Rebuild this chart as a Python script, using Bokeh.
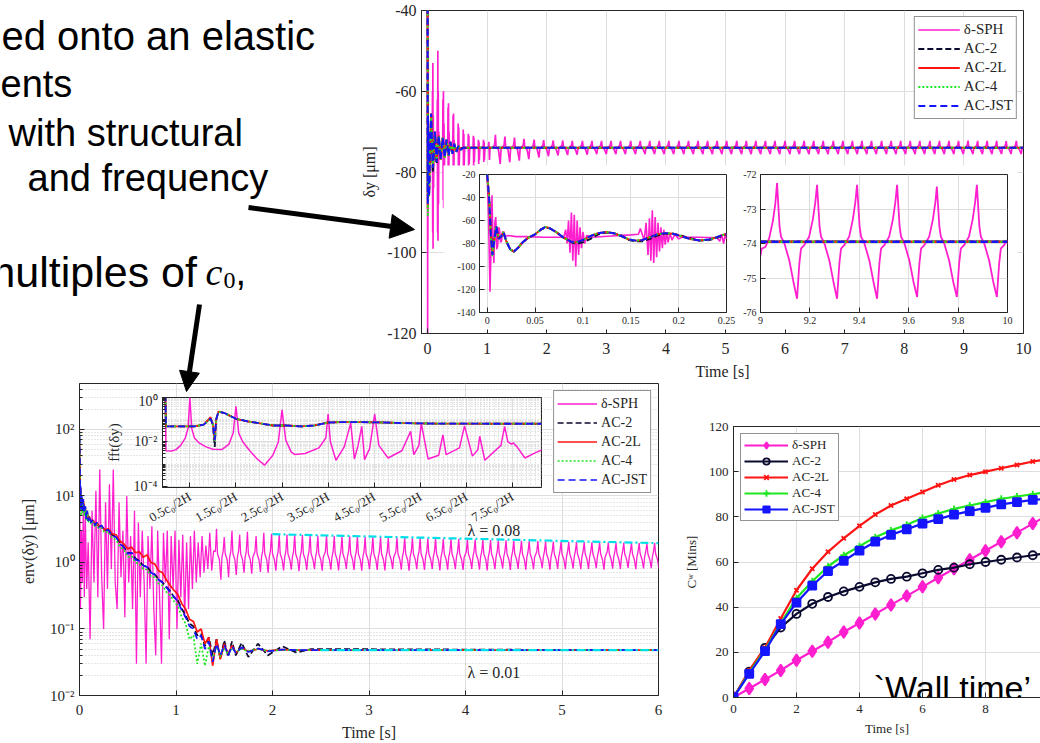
from bokeh.plotting import figure
from bokeh.layouts import column
from bokeh.models import Range1d, FixedTicker, CustomJSTickFormatter, Label, Arrow, NormalHead, BoxAnnotation
from bokeh.embed import file_html
from bokeh.resources import INLINE

# ======================= DATA =======================
series = ["δ-SPH", "AC-2", "AC-2L", "AC-4", "AC-JST"]

# ---- top panel: delta_y [um] versus time [s]
top_time_ticks = [0, 1, 2, 3, 4, 5, 6, 7, 8, 9, 10]
top_disp_ticks = [-120, -100, -80, -60, -40]
top_sph_early = [
    (0.000, -20), (0.003, -122), (0.005, -38), (0.007, -97), (0.009, -57), (0.012, -82), (0.016, -70), (0.020, -74),
    (0.080, -74.5), (0.085, -60), (0.088, -95), (0.091, -53), (0.094, -99), (0.098, -66), (0.102, -84), (0.108, -74),
    (0.160, -72), (0.166, -62), (0.170, -95), (0.174, -50), (0.177, -97), (0.181, -60), (0.185, -88), (0.190, -70),
    (0.200, -77), (0.210, -74),
    (0.255, -74), (0.260, -62), (0.264, -87), (0.268, -60), (0.272, -89), (0.277, -68), (0.283, -80), (0.290, -74),
    (0.340, -74), (0.345, -64), (0.349, -85), (0.353, -63), (0.357, -87), (0.362, -70), (0.370, -74),
    (0.425, -74), (0.430, -66), (0.434, -83), (0.438, -65.5), (0.442, -83.5), (0.447, -72), (0.455, -74),
    (0.510, -74), (0.515, -68), (0.520, -81.5), (0.525, -69), (0.530, -80), (0.540, -74),
    (0.595, -74), (0.600, -69.5), (0.605, -79.5), (0.610, -70.5), (0.615, -78.5), (0.625, -74),
    (0.680, -74), (0.685, -70.5), (0.690, -79), (0.695, -71), (0.700, -78), (0.710, -74),
    (0.765, -74), (0.770, -71), (0.775, -78.5), (0.780, -71.5), (0.785, -77.5), (0.795, -74),
    (0.850, -74), (0.855, -72), (0.860, -78), (0.865, -72.5), (0.870, -77), (0.880, -74),
    (0.935, -74), (0.940, -72), (0.945, -77.5), (0.950, -72.5), (0.955, -77), (0.965, -74),
    (1.020, -74), (1.030, -72.5), (1.040, -77), (1.050, -74), (1.090, -74),
]
top_sph_peak_t = [
    1.14, 1.30, 1.46, 1.62, 1.79, 1.95, 2.11, 2.27, 2.43, 2.60,
    2.76, 2.92, 3.08, 3.24, 3.41, 3.57, 3.73, 3.89, 4.05, 4.22,
    4.38, 4.54, 4.70, 4.86, 5.02, 5.19, 5.35, 5.51, 5.67, 5.83,
    6.00, 6.16, 6.32, 6.48, 6.64, 6.81, 6.97, 7.13, 7.29, 7.45,
    7.62, 7.78, 7.94, 8.10, 8.26, 8.43, 8.59, 8.75, 8.91, 9.07,
    9.23, 9.39, 9.55, 9.71, 9.88]
top_sph_peak_y = [
    -70.8, -71.2, -71.5, -71.8, -72.0, -72.1, -72.2, -72.2, -72.3, -72.3,
    -72.3, -72.3, -72.3, -72.3, -72.3, -72.3, -72.3, -72.3, -72.3, -72.3,
    -72.3, -72.3, -72.3, -72.3, -72.3, -72.3, -72.3, -72.3, -72.3, -72.3,
    -72.3, -72.3, -72.3, -72.3, -72.3, -72.3, -72.3, -72.3, -72.3, -72.3,
    -72.3, -72.3, -72.3, -72.3, -72.3, -72.3, -72.3, -72.3, -72.3, -72.25,
    -72.3, -72.3, -72.3, -72.35, -72.3]
top_sph_trough_y = [
    -78.0, -77.6, -77.2, -76.8, -76.4, -76.1, -75.9, -75.8, -75.7, -75.7,
    -75.6, -75.6, -75.6, -75.6, -75.6, -75.6, -75.6, -75.6, -75.6, -75.6,
    -75.6, -75.6, -75.6, -75.6, -75.6, -75.6, -75.6, -75.6, -75.6, -75.6,
    -75.6, -75.6, -75.6, -75.6, -75.6, -75.6, -75.6, -75.6, -75.6, -75.6,
    -75.6, -75.6, -75.6, -75.6, -75.6, -75.6, -75.6, -75.6, -75.6, -75.6,
    -75.6, -75.6, -75.55, -75.55, -75.55]
top_ac_t = [0.0, 0.002, 0.004, 0.0055, 0.009, 0.013, 0.017, 0.027, 0.04, 0.061, 0.09, 0.125, 0.152, 0.19,
            0.22, 0.255, 0.29, 0.32, 0.355, 0.385, 0.42, 0.45, 0.485, 0.52, 0.555, 0.6, 0.7, 10.0]
top_ac2_y = [-20, -40, -72, -85, -67, -75, -71, -85, -78, -66, -80, -71, -78, -71.5,
             -76.5, -72, -76, -72.5, -75.5, -73, -75, -73.5, -74.6, -73.8, -74.3, -74, -74, -74]
top_ac2l_y = [-20, -40, -76, -89, -66, -76, -70, -86, -77, -65.5, -79, -70, -77.5, -71,
              -77, -71.5, -76.5, -72, -76, -72.5, -75.5, -73, -75, -73.5, -74.5, -74, -74, -74]
top_ac4_y = [-20, -40, -77, -91, -66, -76, -70, -86, -77, -65.5, -79, -70, -77.5, -71,
             -77, -71.5, -76.5, -72, -76, -72.5, -75.5, -73, -75, -73.5, -74.5, -74, -74, -74]
top_acjst_y = [-20, -40, -75, -88, -66, -76, -70, -86, -77, -65.5, -79, -70, -77.5, -71,
               -77, -71.5, -76.5, -72, -76, -72.5, -75.5, -73, -75, -73.5, -74.5, -74, -74, -74]

# ---- inset 1 (0 - 0.25 s)
ins1_time_ticks = [0, 0.05, 0.1, 0.15, 0.2, 0.25]
ins1_disp_ticks = [-140, -120, -100, -80, -60, -40, -20]
ins1_sph = [
    (0.000, -20), (0.0015, -60), (0.003, -122), (0.0045, -70), (0.005, -38), (0.006, -75), (0.007, -97),
    (0.008, -62), (0.009, -57), (0.010, -85), (0.011, -82), (0.012, -66), (0.013, -68), (0.014, -79),
    (0.015, -78), (0.016, -70), (0.0175, -70), (0.019, -74), (0.022, -73), (0.030, -74), (0.040, -74),
    (0.060, -74.5), (0.080, -74.5),
    (0.082, -68), (0.0835, -80), (0.085, -60), (0.0865, -88), (0.088, -53), (0.0895, -95), (0.091, -55),
    (0.0925, -100), (0.094, -60), (0.0955, -90), (0.097, -66), (0.0985, -84), (0.100, -70), (0.102, -80),
    (0.104, -73), (0.110, -74.5), (0.130, -73.5), (0.150, -72.5), (0.158, -72),
    (0.160, -67), (0.162, -72), (0.164, -77),
    (0.166, -62), (0.168, -90), (0.1695, -58), (0.171, -95), (0.1725, -51), (0.174, -97), (0.1755, -57),
    (0.177, -92), (0.1785, -62), (0.180, -87), (0.1815, -66), (0.183, -84), (0.1845, -68), (0.186, -81),
    (0.1875, -70), (0.189, -79), (0.191, -71), (0.193, -77), (0.196, -72), (0.200, -76), (0.205, -74),
    (0.210, -74.5), (0.220, -74.5), (0.240, -75), (0.243, -78), (0.245, -72), (0.247, -80), (0.249, -71),
    (0.250, -76),
]
ins1_ac_t = [0.000, 0.002, 0.004, 0.0055, 0.007, 0.0095, 0.012, 0.0145, 0.017, 0.020,
             0.024, 0.028, 0.032, 0.037, 0.043, 0.050, 0.056, 0.061, 0.066, 0.072,
             0.080, 0.088, 0.093, 0.100, 0.108, 0.116, 0.124, 0.132, 0.140, 0.148,
             0.155, 0.162, 0.170, 0.178, 0.186, 0.194, 0.202, 0.212, 0.222, 0.232,
             0.240, 0.246, 0.250]
ins1_acjst_y = [-20, -40, -75, -90, -80, -65, -76, -74, -70, -78,
                -85, -87, -84, -79, -75, -72, -68, -65.5, -67, -70,
                -75, -78.5, -79, -77, -73.5, -71, -70, -71, -73.5, -76.5,
                -77.5, -77, -74.5, -72, -71, -71.5, -73.5, -76, -77.3, -76.5,
                -74.5, -72.5, -72]
ins1_ac2_y = [-20, -40, -72, -86, -79, -66, -75, -74, -71, -78,
              -85, -87, -84, -79, -75, -72, -68, -66, -67, -70,
              -75, -79, -80, -79, -76, -72, -70.5, -71, -73, -77,
              -78, -78, -76, -73, -71.5, -71.5, -73, -75.5, -77.5, -77,
              -75, -73, -72]
ins1_ac2l_y = [-20, -40, -75, -89, -80, -65, -76, -74, -70, -78,
               -85, -87, -84, -79, -75, -72, -68, -65.5, -67, -70,
               -75, -78.5, -79, -77, -73.5, -71, -70, -71, -73.5, -76.5,
               -77.5, -77, -74.5, -72, -71, -71.5, -73.5, -76, -77.3, -76.5,
               -74.5, -72.5, -72]
ins1_ac4_y = [-20, -40, -76, -91, -80, -65, -76, -74, -70, -78,
              -85, -87, -84, -79, -75, -72, -68, -65.5, -67, -70,
              -75, -78.5, -79, -77, -73.5, -71, -70, -71, -73.5, -76.5,
              -77.5, -77, -74.5, -72, -71, -71.5, -73.5, -76, -77.3, -76.5,
              -74.5, -72.5, -72]

# ---- inset 2 (9 - 10 s)
ins2_time_ticks = [9, 9.2, 9.4, 9.6, 9.8, 10]
ins2_disp_ticks = [-76, -75, -74, -73, -72]
ins2_sph_t = [
    9.000, 9.005, 9.020, 9.035, 9.050, 9.060,
    9.067, 9.077, 9.083, 9.097, 9.117, 9.133, 9.148, 9.157, 9.164, 9.177, 9.197, 9.212, 9.222,
    9.229, 9.239, 9.245, 9.259, 9.279, 9.295, 9.310, 9.319, 9.326, 9.339, 9.359, 9.374, 9.384,
    9.391, 9.401, 9.407, 9.421, 9.441, 9.457, 9.472, 9.481, 9.488, 9.501, 9.521, 9.536, 9.546,
    9.553, 9.563, 9.569, 9.583, 9.603, 9.619, 9.634, 9.643, 9.650, 9.663, 9.683, 9.698, 9.708,
    9.714, 9.724, 9.730, 9.744, 9.764, 9.780, 9.795, 9.804, 9.811, 9.824, 9.844, 9.859, 9.869,
    9.876, 9.886, 9.892, 9.906, 9.926, 9.942, 9.957, 9.966, 9.973, 9.986, 10.000]
ins2_sph_y = [
    -74.35, -74.15, -74.10, -73.85, -73.35, -72.85,
    -72.25, -73.50, -73.80, -74.00, -74.50, -75.10, -75.60, -74.60, -74.15, -74.05, -73.80, -73.30, -72.80,
    -72.30, -73.50, -73.80, -74.00, -74.50, -75.10, -75.60, -74.60, -74.15, -74.05, -73.80, -73.30, -72.80,
    -72.30, -73.50, -73.80, -74.00, -74.50, -75.10, -75.60, -74.60, -74.15, -74.05, -73.80, -73.30, -72.80,
    -72.30, -73.50, -73.80, -74.00, -74.50, -75.10, -75.55, -74.60, -74.15, -74.05, -73.80, -73.30, -72.80,
    -72.35, -73.50, -73.80, -74.00, -74.50, -75.10, -75.55, -74.60, -74.15, -74.05, -73.80, -73.30, -72.80,
    -72.30, -73.50, -73.80, -74.00, -74.50, -75.10, -75.55, -74.60, -74.15, -74.05, -73.90]
ins2_ac_t = [9.0, 10.0]
ins2_ac_y = [-73.95, -73.95]

# ---- envelope panel (log)
env_time_ticks = [0, 1, 2, 3, 4, 5, 6]
env_decades = [0.01, 0.1, 1, 10, 100]
env_sph_early = [
    (0.000, 100), (0.010, 0.2), (0.020, 3), (0.030, 0.5), (0.040, 8), (0.050, 0.3), (0.060, 5),
    (0.075, 0.4), (0.090, 2), (0.110, 0.07), (0.130, 6), (0.150, 0.5), (0.170, 12), (0.190, 0.3),
    (0.210, 25), (0.230, 0.6), (0.250, 0.1), (0.270, 8), (0.290, 0.4), (0.310, 15), (0.330, 0.8),
    (0.350, 25), (0.370, 0.5), (0.390, 0.2), (0.410, 8), (0.430, 0.6), (0.450, 3), (0.470, 0.15),
    (0.490, 10), (0.510, 0.5), (0.530, 2.5), (0.550, 0.2), (0.570, 6), (0.590, 0.03), (0.610, 4),
    (0.630, 0.3), (0.650, 3), (0.670, 0.5), (0.690, 0.03), (0.710, 2.5), (0.730, 0.4), (0.750, 3.5),
    (0.770, 0.2), (0.790, 0.04), (0.810, 3), (0.830, 0.3), (0.850, 0.03), (0.870, 2.8), (0.890, 0.5),
    (0.910, 3), (0.930, 0.07), (0.950, 2.5), (0.970, 0.4), (0.990, 3), (1.010, 0.1), (1.030, 2.2),
    (1.050, 0.3), (1.070, 2.6), (1.090, 0.15), (1.110, 2), (1.130, 0.2), (1.150, 2.5), (1.170, 0.4),
    (1.190, 3), (1.210, 0.5), (1.230, 2), (1.250, 0.6), (1.270, 2.5), (1.290, 0.7), (1.310, 1.8),
    (1.330, 0.8), (1.350, 2.8), (1.370, 0.75), (1.390, 1.5),
]
env_spike_t = [
    1.42, 1.50, 1.58, 1.66, 1.74, 1.83, 1.91, 1.99,
    2.07, 2.15, 2.23, 2.31, 2.39, 2.47, 2.56, 2.64, 2.72, 2.80, 2.88, 2.96,
    3.04, 3.12, 3.20, 3.29, 3.37, 3.45, 3.53, 3.61, 3.69, 3.77, 3.85, 3.93,
    4.02, 4.10, 4.18, 4.26, 4.34, 4.42, 4.50, 4.58, 4.66, 4.75, 4.83, 4.91, 4.99,
    5.07, 5.15, 5.23, 5.31, 5.39, 5.48, 5.56, 5.64, 5.72, 5.80, 5.88, 5.96]
env_spike_peak = [
    3.2, 2.4, 3.0, 2.6, 2.9, 2.5, 2.8, 2.7,
    2.66, 2.62, 2.64, 2.58, 2.57, 2.55, 2.56, 2.50, 2.49, 2.47, 2.46, 2.44,
    2.42, 2.41, 2.38, 2.37, 2.36, 2.33, 2.32, 2.30, 2.29, 2.27, 2.25, 2.24,
    2.22, 2.21, 2.19, 2.18, 2.16, 2.15, 2.13, 2.12, 2.10, 2.09, 2.07, 2.06, 2.05,
    2.04, 2.03, 2.02, 2.01, 2.00, 1.99, 1.98, 1.97, 1.96, 1.96, 1.95, 1.95]
env_spike_trough = [
    0.55, 0.6, 0.65, 0.7, 0.68, 0.72, 0.7, 0.75,
    0.76, 0.78, 0.74, 0.77, 0.79, 0.75, 0.78, 0.76, 0.8, 0.77, 0.75, 0.79,
    0.77, 0.76, 0.8, 0.78, 0.75, 0.79, 0.77, 0.8, 0.76, 0.78, 0.79, 0.77,
    0.8, 0.78, 0.76, 0.79, 0.81, 0.77, 0.8, 0.78, 0.79, 0.82, 0.78, 0.8, 0.79,
    0.81, 0.79, 0.8, 0.82, 0.78, 0.81, 0.8, 0.83, 0.79, 0.81, 0.82, 0.8]
env_ac_t = [0.000, 0.004, 0.008, 0.012, 0.016, 0.022, 0.030, 0.040, 0.050, 0.060,
            0.070, 0.080, 0.090, 0.100, 0.120, 0.140, 0.160, 0.180, 0.200, 0.230,
            0.260, 0.300, 0.340, 0.380, 0.420, 0.460, 0.500, 0.540, 0.580, 0.620,
            0.660, 0.700, 0.740, 0.780, 0.820, 0.860, 0.900, 0.940, 0.980, 1.020,
            1.060, 1.100, 1.140, 1.180, 1.220, 1.260, 1.300, 1.340, 1.380, 1.420,
            1.460, 1.500, 1.540, 1.580, 1.620, 1.680, 1.750, 1.850, 1.950, 2.100,
            2.250, 2.400, 6.000]
env_ac2_y = [70, 28, 8.5, 13, 6.5, 9.5, 6.5, 8.5, 5.8, 6.8,
             4.8, 5.8, 4.4, 4.9, 4.1, 4.3, 3.7, 3.9, 3.5, 3.5,
             3.1, 3.0, 2.6, 2.4, 2.0, 1.7, 1.4, 1.4, 1.15, 1.05,
             0.9, 0.88, 0.72, 0.66, 0.56, 0.5, 0.43, 0.37, 0.3, 0.27,
             0.2, 0.16, 0.12, 0.11, 0.08, 0.085, 0.055, 0.075, 0.04, 0.07,
             0.035, 0.068, 0.038, 0.065, 0.04, 0.062, 0.038, 0.06, 0.04, 0.055,
             0.044, 0.05, 0.048]
env_ac2l_y = [60, 25, 9, 13, 7, 9, 7, 8.5, 6, 6.5,
              5, 5.5, 4.5, 4.8, 4.2, 4.3, 3.8, 3.9, 3.5, 3.5,
              3.1, 3.2, 2.7, 2.6, 2.1, 1.9, 1.6, 1.7, 1.4, 1.45,
              1.2, 1.3, 1.0, 0.95, 0.75, 0.7, 0.55, 0.45, 0.38, 0.33,
              0.24, 0.2, 0.14, 0.13, 0.09, 0.1, 0.06, 0.075, 0.028, 0.07,
              0.035, 0.06, 0.042, 0.056, 0.044, 0.052, 0.046, 0.05, 0.047, 0.049,
              0.048, 0.048, 0.048]
env_ac4_y = [90, 20, 7, 12, 5, 9, 5.5, 8, 5, 6.5,
             4.2, 5.5, 4, 4.6, 3.8, 4.1, 3.4, 3.7, 3.2, 3.3,
             2.8, 2.9, 2.3, 2.2, 1.7, 1.55, 1.2, 1.25, 1.0, 0.95,
             0.8, 0.78, 0.62, 0.6, 0.48, 0.45, 0.36, 0.32, 0.26, 0.22,
             0.15, 0.12, 0.07, 0.08, 0.03, 0.06, 0.028, 0.055, 0.035, 0.055,
             0.038, 0.052, 0.042, 0.05, 0.045, 0.05, 0.046, 0.05, 0.047, 0.048,
             0.048, 0.048, 0.048]
env_acjst_y = [80, 30, 8, 14, 6, 10, 6, 9, 5.5, 7,
               4.5, 6, 4.2, 5, 4, 4.4, 3.6, 4, 3.4, 3.6,
               3.0, 3.1, 2.5, 2.4, 1.9, 1.7, 1.35, 1.4, 1.1, 1.05,
               0.9, 0.85, 0.7, 0.66, 0.55, 0.5, 0.42, 0.36, 0.3, 0.26,
               0.19, 0.15, 0.11, 0.1, 0.07, 0.08, 0.05, 0.065, 0.032, 0.06,
               0.04, 0.058, 0.04, 0.055, 0.043, 0.053, 0.045, 0.051, 0.046, 0.049,
               0.048, 0.048, 0.048]
fit_hi_t = [2.0, 6.0]
fit_hi_y = [2.66, 1.95]
fit_lo_t = [2.5, 6.0]
fit_lo_y = [0.048, 0.048]

# ---- fft inset (frequency in units of c0/2H)
fft_freq_ticks = [0.5, 1.5, 2.5, 3.5, 4.5, 5.5, 6.5, 7.5]
fft_decades = [1e-4, 1e-2, 1]
fft_sph = [
    (-0.094, 1.0), (-0.03, 0.9), (-0.02, 0.004), (0.1, 0.0039), (0.2, 0.0045), (0.3, 0.007), (0.4, 0.015),
    (0.46, 0.04), (0.5, 1.0), (0.54, 0.04), (0.6, 0.015), (0.7, 0.009), (0.85, 0.006), (1.0, 0.0047),
    (1.2, 0.0046), (1.35, 0.008), (1.44, 0.025), (1.5, 0.4), (1.56, 0.025), (1.65, 0.01), (1.8, 0.004),
    (1.95, 0.0018), (2.12, 0.0009), (2.3, 0.0025), (2.42, 0.01), (2.5, 0.28), (2.58, 0.012), (2.7, 0.0035),
    (2.78, 0.0027), (3.0, 0.003), (3.3, 0.0054), (3.45, 0.015), (3.5, 0.18), (3.55, 0.01), (3.67, 0.0015),
    (3.85, 0.006), (3.99, 0.07), (4.07, 0.0017), (4.15, 0.007), (4.23, 0.05), (4.29, 0.0016), (4.4, 0.005),
    (4.51, 0.18), (4.6, 0.007), (4.8, 0.0019), (5.1, 0.004), (5.29, 0.03), (5.36, 0.0027), (5.47, 0.007),
    (5.52, 0.07), (5.67, 0.0017), (5.9, 0.0025), (5.99, 0.021), (6.06, 0.0027), (6.35, 0.0054), (6.46, 0.053),
    (6.63, 0.0023), (6.75, 0.0045), (6.79, 0.018), (6.9, 0.0015), (7.25, 0.007), (7.33, 0.05), (7.4, 0.01),
    (7.48, 0.008), (7.52, 0.009), (7.6, 0.006), (7.77, 0.0019), (8.0, 0.0033), (8.2, 0.005),
]
fft_ac_f = [-0.094, -0.03, -0.02, 0.3, 0.6, 0.8, 0.95, 1.0, 1.04, 1.07, 1.12, 1.25, 1.5, 1.75,
            2.0, 2.3, 2.6, 2.9, 3.2, 3.5, 3.8, 4.2, 4.6, 5.0, 5.5, 6.0, 7.0, 8.2]
fft_ac2_y = [1.0, 1.0, 0.05, 0.05, 0.05, 0.06, 0.12, 0.06, 0.006, 0.1, 0.23, 0.2, 0.11, 0.085,
             0.07, 0.055, 0.055, 0.05, 0.055, 0.075, 0.078, 0.078, 0.076, 0.072, 0.068, 0.067, 0.066, 0.066]
fft_ac2l_y = [1.0, 1.0, 0.05, 0.05, 0.05, 0.06, 0.13, 0.06, 0.011, 0.1, 0.23, 0.2, 0.11, 0.085,
              0.07, 0.055, 0.055, 0.05, 0.055, 0.075, 0.078, 0.078, 0.076, 0.072, 0.068, 0.067, 0.066, 0.066]
fft_ac4_y = [1.0, 1.0, 0.05, 0.05, 0.05, 0.06, 0.11, 0.06, 0.011, 0.1, 0.23, 0.2, 0.11, 0.085,
             0.07, 0.055, 0.055, 0.05, 0.055, 0.075, 0.078, 0.078, 0.076, 0.072, 0.068, 0.067, 0.066, 0.066]
fft_acjst_y = [1.0, 1.0, 0.05, 0.05, 0.05, 0.06, 0.11, 0.06, 0.012, 0.1, 0.23, 0.2, 0.11, 0.085,
               0.07, 0.055, 0.055, 0.05, 0.055, 0.075, 0.078, 0.078, 0.076, 0.072, 0.068, 0.067, 0.066, 0.066]

# ---- wall time panel
wall_time_ticks = [0, 2, 4, 6, 8]
wall_min_ticks = [0, 20, 40, 60, 80, 100, 120]
wall_t = [0, 0.5, 1, 1.5, 2, 2.5, 3, 3.5, 4, 4.5, 5, 5.5, 6, 6.5, 7, 7.5, 8, 8.5, 9, 9.5, 10]
wall_sph = [0, 4, 8, 12, 16.5, 20.5, 24.5, 29, 33, 37, 41, 45, 49, 53, 57, 61, 65, 69, 73, 77, 81]
wall_ac2 = [0, 11.5, 22, 31, 37, 41.5, 44.5, 47, 49, 51, 52.5, 53.5, 55, 56.5, 57.5, 59, 60, 61, 62, 63, 64]
wall_ac2l = [0, 12, 22, 35, 47.5, 57, 64.5, 70.5, 76, 81, 85, 88, 91, 94, 96.5, 98.5, 100, 101.5, 103, 104.5, 105.5]
wall_ac4 = [0, 11, 21, 33, 44, 51.5, 58, 63, 67, 71, 74, 76.5, 79.5, 81.5, 83.5, 85, 86.5, 88, 89, 90, 91]
wall_acjst = [0, 10.5, 20.5, 32.5, 42, 49.5, 56, 60.5, 65, 69, 72, 74.5, 77, 79, 81, 82.5, 84, 85.5, 86.5, 87.5, 88]

# ---- checks
for a, b in [(top_sph_peak_t, top_sph_peak_y), (top_sph_peak_t, top_sph_trough_y), (top_ac_t, top_ac2_y),
             (top_ac_t, top_ac2l_y), (top_ac_t, top_ac4_y), (top_ac_t, top_acjst_y), (ins1_ac_t, ins1_ac2_y),
             (ins1_ac_t, ins1_ac2l_y), (ins1_ac_t, ins1_ac4_y), (ins1_ac_t, ins1_acjst_y), (ins2_sph_t, ins2_sph_y),
             (env_spike_t, env_spike_peak), (env_spike_t, env_spike_trough), (env_ac_t, env_ac2_y),
             (env_ac_t, env_ac2l_y), (env_ac_t, env_ac4_y), (env_ac_t, env_acjst_y), (fft_ac_f, fft_ac2_y),
             (fft_ac_f, fft_ac2l_y), (fft_ac_f, fft_ac4_y), (fft_ac_f, fft_acjst_y)]:
    assert len(a) == len(b), (len(a), len(b))

# ---- build polylines from the read tables
top_sph_t = [p[0] for p in top_sph_early]
top_sph_y = [p[1] for p in top_sph_early]
for tp, pk, tr in zip(top_sph_peak_t, top_sph_peak_y, top_sph_trough_y):
    top_sph_t += [tp - 0.05, tp - 0.015, tp, tp + 0.012, tp + 0.05, tp + 0.081, tp + 0.095]
    top_sph_y += [-74.0, -73.4, pk, -73.8, -74.4, tr, -74.2]

env_sph_t = [p[0] for p in env_sph_early]
env_sph_y = [p[1] for p in env_sph_early]
for ts, pk, tr in zip(env_spike_t, env_spike_peak, env_spike_trough):
    env_sph_t += [ts - 0.012, ts, ts + 0.01, ts + 0.03, ts + 0.045, ts + 0.056]
    env_sph_y += [1.45, pk, 1.35, 1.1, tr, 1.2]

# ======================= STYLE =======================
SERIF = "Liberation Serif"
SANS = "Liberation Sans"
AXC = "#262626"
PINK = "#ff1fcf"
NAVY = "#0a0a30"
RED = "#ff1414"
GREEN = "#1fe61f"
BLUE = "#1414ff"
CYAN = "#00e0e8"
BL = 80   # common left border (the column aligns frame edges of its children)
BR = 10   # common right border
PAGE_W, PAGE_H = 1040, 743


def fmt_num():
    return CustomJSTickFormatter(code="return String(Math.round(tick * 1000) / 1000);")


def fmt_log():
    return CustomJSTickFormatter(code="""
const e = Math.round(Math.log10(tick));
const m = {"-": "\u207b", "0": "\u2070", "1": "\u00b9", "2": "\u00b2", "3": "\u00b3", "4": "\u2074", "5": "\u2075"};
return "10" + String(e).split("").map(c => m[c]).join("");
""")


def panel(frame_left, top, fw, fh, bt, bb, xr, yr, y_type="linear"):
    p = figure(x_range=Range1d(*xr), y_range=Range1d(*yr), y_axis_type=y_type,
               frame_width=fw, frame_height=fh,
               min_border_left=BL, min_border_right=BR, min_border_top=bt, min_border_bottom=bb,
               toolbar_location=None, tools="", output_backend="svg",
               background_fill_color="white", border_fill_color=None,
               styles={"position": "absolute", "left": f"{frame_left - BL}px", "top": f"{top}px"})
    return p


def style(p, tick_px, label_px):
    p.outline_line_color = AXC
    p.outline_line_width = 1
    for ax in list(p.xaxis) + list(p.yaxis):
        ax.axis_line_color = AXC
        ax.major_tick_line_color = AXC
        ax.minor_tick_line_color = AXC
        ax.major_tick_in = 5
        ax.major_tick_out = 0
        ax.minor_tick_in = 3
        ax.minor_tick_out = 0
        ax.major_label_text_font = SERIF
        ax.major_label_text_font_size = f"{tick_px}px"
        ax.major_label_text_color = AXC
        ax.axis_label_text_font = SERIF
        ax.axis_label_text_font_size = f"{label_px}px"
        ax.axis_label_text_font_style = "normal"
        ax.axis_label_text_color = AXC
        ax.major_label_standoff = 5
    p.xgrid.grid_line_color = "#dedede"
    p.ygrid.grid_line_color = "#dedede"


def set_ticks(p, dim, ticks, minor=None, fmt=None):
    tk = FixedTicker(ticks=ticks, minor_ticks=minor or [])
    if dim == "x":
        p.xaxis.ticker = tk
        p.xgrid.ticker = tk
        p.xaxis.formatter = fmt or fmt_num()
    else:
        p.yaxis.ticker = tk
        p.ygrid.ticker = tk
        p.yaxis.formatter = fmt or fmt_num()


def style_legend(p, loc, font_px, glyph_w, row_h, margin):
    lg = p.legend[0]
    lg.location = loc
    lg.margin = margin
    lg.padding = 3
    lg.spacing = 0
    lg.label_text_font = SERIF
    lg.label_text_font_size = f"{font_px}px"
    lg.label_text_color = AXC
    lg.glyph_width = glyph_w
    lg.glyph_height = row_h
    lg.label_height = row_h
    lg.label_standoff = 4
    lg.border_line_color = AXC
    lg.border_line_width = 1
    lg.background_fill_color = "white"
    lg.background_fill_alpha = 1


def ac_lines(p, x, ys, width, legend=True):
    specs = [("AC-2", NAVY, "6 3"), ("AC-2L", RED, "solid"), ("AC-4", GREEN, "2 2"), ("AC-JST", BLUE, "7 4")]
    for (name, col, dash), y in zip(specs, ys):
        kw = {"legend_label": name} if legend else {}
        p.line(x, y, line_color=col, line_width=width, line_dash=dash, **kw)


# ======================= TOP PANEL =======================
pa = panel(421, 0, 602, 323, 10, 45, (-0.1, 10), (-120, -40))
pa.line(top_sph_t, top_sph_y, line_color=PINK, line_width=1.7, legend_label="δ-SPH")
ac_lines(pa, top_ac_t, [top_ac2_y, top_ac2l_y, top_ac4_y, top_acjst_y], 2.0)
# white backdrop behind the two zoom insets (as in the original figure)
pa.add_layout(BoxAnnotation(left=0.27, right=9.9, bottom=-119.0, top=-78.4,
                            fill_color="white", fill_alpha=1.0, line_color=None))
style(pa, 16, 16)
set_ticks(pa, "x", top_time_ticks)
set_ticks(pa, "y", top_disp_ticks)
pa.xaxis.major_label_standoff = 9
pa.xaxis.axis_label = "Time [s]"
pa.yaxis.axis_label = "δy [μm]"
pa.xaxis.axis_label_standoff = 6
pa.yaxis.axis_label_standoff = 6
style_legend(pa, "top_right", 15, 42, 19, 6)

pb = panel(479, 170, 247, 138, 4, 17, (-0.008, 0.25), (-140, -20))
pb.line([p[0] for p in ins1_sph], [p[1] for p in ins1_sph], line_color=PINK, line_width=1.6)
ac_lines(pb, ins1_ac_t, [ins1_ac2_y, ins1_ac2l_y, ins1_ac4_y, ins1_acjst_y], 2.0, legend=False)
style(pb, 10, 10)
set_ticks(pb, "x", ins1_time_ticks)
set_ticks(pb, "y", ins1_disp_ticks)
for ax in list(pb.xaxis) + list(pb.yaxis):
    ax.major_label_standoff = 4

pc = panel(760, 170, 247, 138, 4, 17, (9, 10), (-76, -72))
pc.line(ins2_sph_t, ins2_sph_y, line_color=PINK, line_width=1.8)
ac_lines(pc, ins2_ac_t, [ins2_ac_y, ins2_ac_y, ins2_ac_y, ins2_ac_y], 2.4, legend=False)
style(pc, 10, 10)
set_ticks(pc, "x", ins2_time_ticks)
set_ticks(pc, "y", ins2_disp_ticks)
for ax in list(pc.xaxis) + list(pc.yaxis):
    ax.major_label_standoff = 4

# ======================= ENVELOPE PANEL =======================
env_minor = [m * d for d in [0.01, 0.1, 1, 10, 100] for m in range(2, 10) if m * d <= 490]
pd = panel(79, 378, 579, 312, 5, 48, (0, 6), (0.01, 490), y_type="log")
pd.line(env_sph_t, env_sph_y, line_color=PINK, line_width=1.3, legend_label="δ-SPH")
ac_lines(pd, env_ac_t, [env_ac2_y, env_ac2l_y, env_ac4_y, env_acjst_y], 1.7)
pd.line(fit_hi_t, fit_hi_y, line_color=CYAN, line_width=2.2, line_dash="8 3 2 3")
pd.line(fit_lo_t, fit_lo_y, line_color=CYAN, line_width=2.2, line_dash="8 3 2 3")
style(pd, 15, 16)
set_ticks(pd, "x", env_time_ticks)
set_ticks(pd, "y", env_decades, env_minor, fmt_log())
pd.ygrid.minor_grid_line_color = "#cfcfcf"
pd.ygrid.minor_grid_line_dash = "1 2"
pd.xaxis.major_label_standoff = 9
pd.xaxis.axis_label = "Time [s]"
pd.yaxis.axis_label = "env(δy)  [μm]"
pd.xaxis.axis_label_standoff = 6
pd.yaxis.axis_label_standoff = 10
style_legend(pd, "top_right", 14, 40, 19, 7)
pd.add_layout(Label(x=4.02, y=3.0, text="λ = 0.08", text_font=SERIF, text_font_size="16px",
                    text_color=AXC, text_baseline="middle"))
pd.add_layout(Label(x=4.02, y=0.022, text="λ = 0.01", text_font=SERIF, text_font_size="16px",
                    text_color=AXC, text_baseline="middle"))

# fft inset
fft_minor_y = [m * d for d in [1e-4, 1e-3, 1e-2, 1e-1] for m in range(1, 10) if not (m == 1 and d in (1e-4, 1e-2))]
fft_minor_x = [round(0.1 * k, 1) for k in range(0, 82)]
pe = panel(162, 393, 379, 90, 4, 48, (-0.094, 8.13), (10 ** -4.05, 1.0), y_type="log")
pe.line([p[0] for p in fft_sph], [p[1] for p in fft_sph], line_color=PINK, line_width=1.5)
ac_lines(pe, fft_ac_f, [fft_ac2_y, fft_ac2l_y, fft_ac4_y, fft_acjst_y], 1.8, legend=False)
style(pe, 14, 15)
set_ticks(pe, "x", fft_freq_ticks, fft_minor_x,
          CustomJSTickFormatter(code="return tick.toFixed(1) + 'c\u2080/2H';"))
set_ticks(pe, "y", fft_decades, fft_minor_y, fmt_log())
pe.xaxis.major_label_orientation = 0.52
pe.xaxis.major_label_text_font_size = "13px"
pe.xaxis.major_label_standoff = 8
pe.xaxis.minor_tick_line_color = None
pe.xgrid.minor_grid_line_color = "#cccccc"
pe.xgrid.minor_grid_line_dash = "1 2"
pe.ygrid.minor_grid_line_color = "#cccccc"
pe.ygrid.minor_grid_line_dash = "1 2"
pe.yaxis.axis_label = "fft(δy)"
pe.yaxis.axis_label_standoff = 9

# ======================= WALL TIME PANEL =======================
pf = panel(733, 416, 307, 271, 10, 46, (0, 9.746), (0, 120))
specs = [("δ-SPH", PINK, wall_sph, "diamond", 12, PINK),
         ("AC-2", NAVY, wall_ac2, "circle", 8, None),
         ("AC-2L", RED, wall_ac2l, "x", 6, RED),
         ("AC-4", GREEN, wall_ac4, "cross", 7, GREEN),
         ("AC-JST", BLUE, wall_acjst, "square", 8, BLUE)]
for name, col, yv, mk, sz, fill in specs:
    pf.line(wall_t, yv, line_color=col, line_width=2.2, legend_label=name)
    pf.scatter(wall_t, yv, marker=mk, size=sz, line_color=col, fill_color=fill, line_width=1.8,
               legend_label=name)
style(pf, 13, 13)
set_ticks(pf, "x", wall_time_ticks)
set_ticks(pf, "y", wall_min_ticks)
pf.xaxis.major_label_standoff = 7
pf.xaxis.axis_label = "Time [s]"
pf.yaxis.axis_label = "Cʷ [Mins]"
pf.xaxis.axis_label_standoff = 5
pf.yaxis.axis_label_standoff = 7
style_legend(pf, "top_left", 13, 44, 16, 7)
# slide caption placed on this panel (x in s, y in Mins, left/baseline anchored)
pf.add_layout(Label(x=4.45, y=4.4, text="`Wall time’", text_font=SANS, text_font_size="34px",
                    text_color="black", text_baseline="alphabetic"))

# ======================= SLIDE OVERLAY (text + arrows) =======================
# figure placed at page x = -BL so that its frame starts at page x 0; x range equals page x
OV_W = PAGE_W
ov = figure(x_range=Range1d(0, OV_W - BL - BR), y_range=Range1d(PAGE_H, 0), width=OV_W, height=PAGE_H,
            min_border_left=BL, min_border_right=BR, min_border_top=0, min_border_bottom=0,
            x_axis_type=None, y_axis_type=None, toolbar_location=None, tools="",
            output_backend="svg", background_fill_color=None, border_fill_color=None,
            styles={"position": "absolute", "left": f"{-BL}px", "top": "0px"})
ov.outline_line_color = None
ov.grid.visible = False
slide_lines = [(1, 35, "ed onto an elastic", 40), (0, 83, "ents", 38), (8, 132, "with structural", 38),
               (27, 177, "and frequency", 38), (-21, 271, "multiples of", 43)]
for x, y, t, fs in slide_lines:
    ov.add_layout(Label(x=x, y=y, text=t, text_font=SANS, text_font_size=f"{fs}px", text_color="black",
                        text_baseline="alphabetic"))
ov.add_layout(Label(x=205, y=271, text="c", text_font=SERIF, text_font_size="38px",
                    text_font_style="italic", text_color="black", text_baseline="alphabetic"))
ov.add_layout(Label(x=223, y=280, text="0", text_font=SERIF, text_font_size="24px",
                    text_color="black", text_baseline="alphabetic"))
ov.add_layout(Label(x=235, y=271, text=",", text_font=SANS, text_font_size="38px",
                    text_color="black", text_baseline="alphabetic"))
ov.add_layout(Arrow(end=NormalHead(size=24, fill_color="black", line_color="black"),
                    x_start=248, y_start=207, x_end=414, y_end=229, line_color="black", line_width=5))
ov.add_layout(Arrow(end=NormalHead(size=20, fill_color="black", line_color="black"),
                    x_start=199, y_start=304, x_end=186, y_end=391, line_color="black", line_width=5))

root = column(pa, pb, pc, pd, pe, pf, ov, width=PAGE_W, height=PAGE_H, sizing_mode="fixed",
              styles={"position": "relative", "overflow": "hidden",
                      "width": f"{PAGE_W}px", "height": f"{PAGE_H}px"})
open("out.html", "w").write(file_html(root, INLINE))
